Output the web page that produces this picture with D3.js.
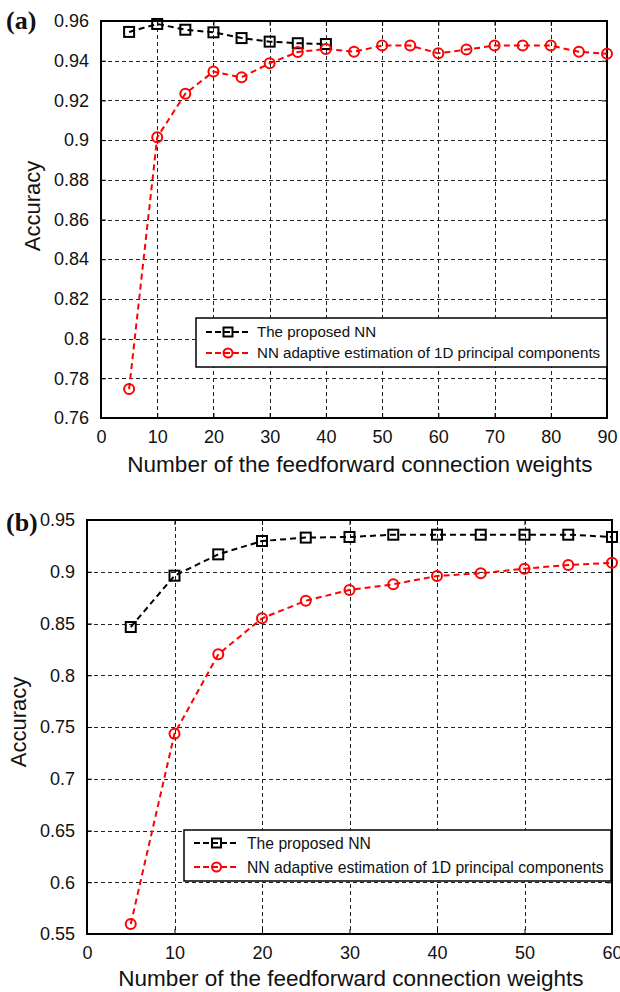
<!DOCTYPE html>
<html>
<head>
<meta charset="utf-8">
<script src="https://cdn.jsdelivr.net/npm/d3@7"></script>
<style>
  body { margin: 0; background: #fff; }
  svg { display: block; font-family: "Liberation Sans", Arial, Helvetica, sans-serif; }
</style>
</head>
<body>
<div id="chart"></div>
<script>
// panel (a)
var xA = [5, 10, 15, 20, 25, 30, 35, 40, 45, 50, 55, 60, 65, 70, 75, 80, 85, 90];
var proposedA = [0.9545, 0.9585, 0.9556, 0.9543, 0.9514, 0.9496, 0.9488, 0.9484];
var adaptiveA = [0.7746, 0.9014, 0.9234, 0.9345, 0.9316, 0.9387, 0.9444, 0.9459, 0.9445,
                 0.9476, 0.9476, 0.9437, 0.9456, 0.9476, 0.9476, 0.9476, 0.9445, 0.9435];
var xTicksA = [0, 10, 20, 30, 40, 50, 60, 70, 80, 90];
var yTicksA = [0.76, 0.78, 0.8, 0.82, 0.84, 0.86, 0.88, 0.9, 0.92, 0.94, 0.96];

// panel (b)
var xB = [5, 10, 15, 20, 25, 30, 35, 40, 45, 50, 55, 60];
var proposedB = [0.8466, 0.8962, 0.9168, 0.9297, 0.933, 0.9336, 0.9358, 0.9358, 0.9358, 0.9358, 0.9358, 0.9336];
var adaptiveB = [0.5597, 0.7435, 0.8202, 0.855, 0.872, 0.8824, 0.8879, 0.8959, 0.8985, 0.903, 0.9065, 0.9087];
var xTicksB = [0, 10, 20, 30, 40, 50, 60];
var yTicksB = [0.55, 0.6, 0.65, 0.7, 0.75, 0.8, 0.85, 0.9, 0.95];

var seriesNames = ["The proposed NN", "NN adaptive estimation of 1D principal components"];
var xTitle = "Number of the feedforward connection weights";
var yTitle = "Accuracy";

var svg = d3.select("#chart").append("svg")
  .attr("width", 620)
  .attr("height", 992);

function fmt(d) { return String(+d.toFixed(2)); }

function drawPanel(p) {
  var x = d3.scaleLinear().domain(p.xDomain).range([p.left, p.right]);
  var y = d3.scaleLinear().domain(p.yDomain).range([p.bottom, p.top]);
  var g = svg.append("g");

  // grid (dashed, inner ticks only)
  g.append("g").selectAll("line")
    .data(p.xTicks.slice(1, -1))
    .enter().append("line")
    .attr("x1", function(d) { return Math.round(x(d)) + 0.5; })
    .attr("x2", function(d) { return Math.round(x(d)) + 0.5; })
    .attr("y1", p.top).attr("y2", p.bottom)
    .attr("stroke", "#222").attr("stroke-width", 1).attr("stroke-dasharray", "4,3");
  g.append("g").selectAll("line")
    .data(p.yTicks.slice(1, -1))
    .enter().append("line")
    .attr("y1", function(d) { return Math.round(y(d)) + 0.5; })
    .attr("y2", function(d) { return Math.round(y(d)) + 0.5; })
    .attr("x1", p.left).attr("x2", p.right)
    .attr("stroke", "#222").attr("stroke-width", 1).attr("stroke-dasharray", "4,3");

  // axes: ticks inside, labels outside
  var xAxis = d3.axisBottom(x).tickValues(p.xTicks).tickSize(-5).tickPadding(12).tickFormat(fmt);
  var yAxis = d3.axisLeft(y).tickValues(p.yTicks).tickSize(-5).tickPadding(12).tickFormat(fmt);
  var gx = g.append("g").attr("transform", "translate(0," + p.bottom + ")").call(xAxis);
  var gy = g.append("g").attr("transform", "translate(" + p.left + ",0)").call(yAxis);
  g.append("g").attr("transform", "translate(0," + p.top + ")")
    .call(d3.axisTop(x).tickValues(p.xTicks).tickSize(-5).tickFormat(""));
  g.append("g").attr("transform", "translate(" + p.right + ",0)")
    .call(d3.axisRight(y).tickValues(p.yTicks).tickSize(-5).tickFormat(""));
  g.selectAll(".domain").remove();
  g.selectAll(".tick line").attr("stroke", "#000");
  gx.selectAll("text").attr("font-size", 18).attr("fill", "#111")
    .attr("font-family", "Liberation Sans, Arial, sans-serif");
  gy.selectAll("text").attr("font-size", 18).attr("fill", "#111")
    .attr("font-family", "Liberation Sans, Arial, sans-serif");

  // frame
  g.append("rect")
    .attr("x", p.left).attr("y", p.top)
    .attr("width", p.right - p.left).attr("height", p.bottom - p.top)
    .attr("fill", "none").attr("stroke", "#000").attr("stroke-width", 2);

  // series
  var line = d3.line()
    .x(function(d) { return x(d[0]); })
    .y(function(d) { return y(d[1]); });

  var black = p.proposed.map(function(v, i) { return [p.xs[i], v]; });
  var red = p.adaptive.map(function(v, i) { return [p.xs[i], v]; });

  g.append("path").datum(black).attr("d", line)
    .attr("fill", "none").attr("stroke", "#000").attr("stroke-width", 2).attr("stroke-dasharray", "6,4");
  g.append("path").datum(red).attr("d", line)
    .attr("fill", "none").attr("stroke", "#f00").attr("stroke-width", 2).attr("stroke-dasharray", "6,4");

  g.append("g").selectAll("rect")
    .data(black).enter().append("rect")
    .attr("x", function(d) { return x(d[0]) - 5; })
    .attr("y", function(d) { return y(d[1]) - 5; })
    .attr("width", 10).attr("height", 10)
    .attr("fill", "none").attr("stroke", "#000").attr("stroke-width", 2);
  g.append("g").selectAll("circle")
    .data(red).enter().append("circle")
    .attr("cx", function(d) { return x(d[0]); })
    .attr("cy", function(d) { return y(d[1]); })
    .attr("r", 5)
    .attr("fill", "none").attr("stroke", "#f00").attr("stroke-width", 2);

  // legend
  var L = p.legend;
  var lg = g.append("g");
  lg.append("rect")
    .attr("x", L.x).attr("y", L.y).attr("width", L.w).attr("height", L.h)
    .attr("fill", "#fff").attr("stroke", "#000").attr("stroke-width", 1.5);
  [0, 1].forEach(function(i) {
    var ry = L.rows[i];
    var col = i === 0 ? "#000" : "#f00";
    lg.append("line")
      .attr("x1", L.lx1).attr("x2", L.lx2).attr("y1", ry).attr("y2", ry)
      .attr("stroke", col).attr("stroke-width", 2).attr("stroke-dasharray", "6,3");
    var mx = (L.lx1 + L.lx2) / 2;
    if (i === 0) {
      lg.append("rect").attr("x", mx - 4.5).attr("y", ry - 4.5).attr("width", 9).attr("height", 9)
        .attr("fill", "none").attr("stroke", col).attr("stroke-width", 2);
    } else {
      lg.append("circle").attr("cx", mx).attr("cy", ry).attr("r", 4.5)
        .attr("fill", "none").attr("stroke", col).attr("stroke-width", 2);
    }
    lg.append("text")
      .attr("x", L.tx).attr("y", ry).attr("dy", "0.36em")
      .attr("font-size", L.fs).attr("fill", "#111")
      .text(seriesNames[i]);
  });

  // titles
  g.append("text")
    .attr("x", p.xTitleX).attr("y", p.xTitleY)
    .attr("text-anchor", "middle").attr("font-size", 22.5).attr("fill", "#111")
    .text(xTitle);
  g.append("text")
    .attr("transform", "translate(" + p.yTitleX + "," + p.yTitleY + ") rotate(-90)")
    .attr("text-anchor", "middle").attr("font-size", 22).attr("fill", "#111")
    .text(yTitle);
  g.append("text")
    .attr("x", 6).attr("y", p.tagY)
    .attr("font-family", "Liberation Serif, Times New Roman, serif")
    .attr("font-weight", "bold").attr("font-size", 26).attr("fill", "#111")
    .text(p.tag);
}

drawPanel({
  tag: "(a)", tagY: 29,
  left: 101, right: 607, top: 21, bottom: 418,
  xDomain: [0, 90], yDomain: [0.76, 0.96],
  xTicks: xTicksA, yTicks: yTicksA,
  xs: xA, proposed: proposedA, adaptive: adaptiveA,
  legend: { x: 196, y: 318, w: 411, h: 49, rows: [332, 353], lx1: 206, lx2: 250, tx: 257, fs: 15.1 },
  xTitleX: 360, xTitleY: 472, yTitleX: 40, yTitleY: 206
});

drawPanel({
  tag: "(b)", tagY: 531,
  left: 87, right: 612, top: 520, bottom: 934,
  xDomain: [0, 60], yDomain: [0.55, 0.95],
  xTicks: xTicksB, yTicks: yTicksB,
  xs: xB, proposed: proposedB, adaptive: adaptiveB,
  legend: { x: 184, y: 830, w: 427, h: 51, rows: [843, 867], lx1: 194, lx2: 239, tx: 247, fs: 15.7 },
  xTitleX: 351, xTitleY: 986, yTitleX: 26, yTitleY: 722
});
</script>
</body>
</html>
